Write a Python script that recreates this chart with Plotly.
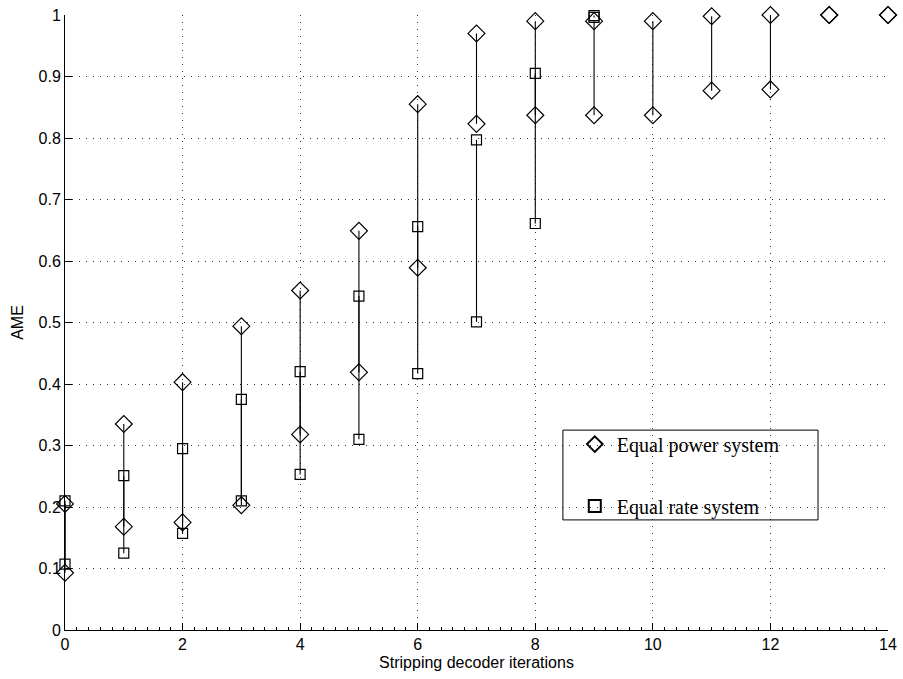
import plotly.graph_objects as go

iterations = [0, 1, 2, 3, 4, 5, 6, 7, 8, 9, 10, 11, 12, 13, 14]
power_max = [0.205, 0.335, 0.403, 0.494, 0.552, 0.649, 0.855, 0.970, 0.990, 0.990, 0.990, 0.998, 1.000, 1.000, 1.000]
power_min = [0.093, 0.168, 0.175, 0.203, 0.318, 0.419, 0.589, 0.823, 0.837, 0.837, 0.837, 0.877, 0.879, 1.000, 1.000]
rate_iters = [0, 1, 2, 3, 4, 5, 6, 7, 8, 9]
rate_max = [0.210, 0.251, 0.295, 0.375, 0.420, 0.543, 0.656, 0.797, 0.905, 0.999]
rate_min = [0.107, 0.125, 0.157, 0.210, 0.253, 0.310, 0.417, 0.501, 0.661, 0.996]

fig = go.Figure()

# vertical range lines
lx, ly = [], []
for x, a, b in zip(iterations, power_max, power_min):
    lx += [x, x, None]; ly += [a, b, None]
for x, a, b in zip(rate_iters, rate_max, rate_min):
    lx += [x, x, None]; ly += [a, b, None]
fig.add_trace(go.Scatter(x=lx, y=ly, mode="lines", line=dict(color="black", width=1.1),
                         showlegend=False, hoverinfo="skip", cliponaxis=False))

fig.add_trace(go.Scatter(x=iterations + iterations, y=power_max + power_min, mode="markers",
                         name="Equal power system", legendgroup="p",
                         marker=dict(symbol="diamond-open", size=13, color="black", line=dict(width=1.2)),
                         cliponaxis=False))
fig.add_trace(go.Scatter(x=rate_iters + rate_iters, y=rate_max + rate_min, mode="markers",
                         name="Equal rate system", legendgroup="r",
                         marker=dict(symbol="square-open", size=10, color="black", line=dict(width=1.2)),
                         cliponaxis=False))

# legend frame (transparent, grid shows through as in the reference)
fig.add_shape(type="rect", xref="paper", yref="paper", x0=0.605, x1=0.915, y0=0.179, y1=0.325,
              line=dict(color="black", width=1), fillcolor="rgba(0,0,0,0)", layer="above")

fig.update_layout(
    width=903, height=679,
    margin=dict(l=65, r=15, t=15, b=49),
    paper_bgcolor="white", plot_bgcolor="white",
    font=dict(family="Liberation Sans, Arial", size=16, color="black"),
    legend=dict(x=0.617, y=0.334, xanchor="left", yanchor="top",
                bgcolor="rgba(0,0,0,0)", borderwidth=0,
                font=dict(family="Liberation Serif, Times New Roman", size=20),
                tracegroupgap=33, itemsizing="constant", itemwidth=34),
)
fig.update_xaxes(range=[0, 14], dtick=2, tick0=0, showline=True, linecolor="black", linewidth=1,
                 ticks="inside", ticklen=7, tickcolor="black", automargin=False,
                 minor=dict(dtick=0.2, ticks="inside", ticklen=3, tickcolor="black", showgrid=False),
                 showgrid=True, gridcolor="#333", griddash="1px,6px", gridwidth=1, zeroline=False,
                 title=dict(text="Stripping decoder iterations", standoff=4, font=dict(size=16)))
fig.update_yaxes(range=[0, 1], dtick=0.1, tick0=0, showline=True, linecolor="black", linewidth=1,
                 ticks="inside", ticklen=7, tickcolor="black", automargin=False,
                 showgrid=True, gridcolor="#333", griddash="1px,6px", gridwidth=1, zeroline=False,
                 tickformat="~g",
                 title=dict(text="AME", standoff=10, font=dict(size=16)))

fig.write_html("out.html", config={"displayModeBar": False},
               post_script="document.body.style.margin='0px';document.body.style.overflow='hidden';")
